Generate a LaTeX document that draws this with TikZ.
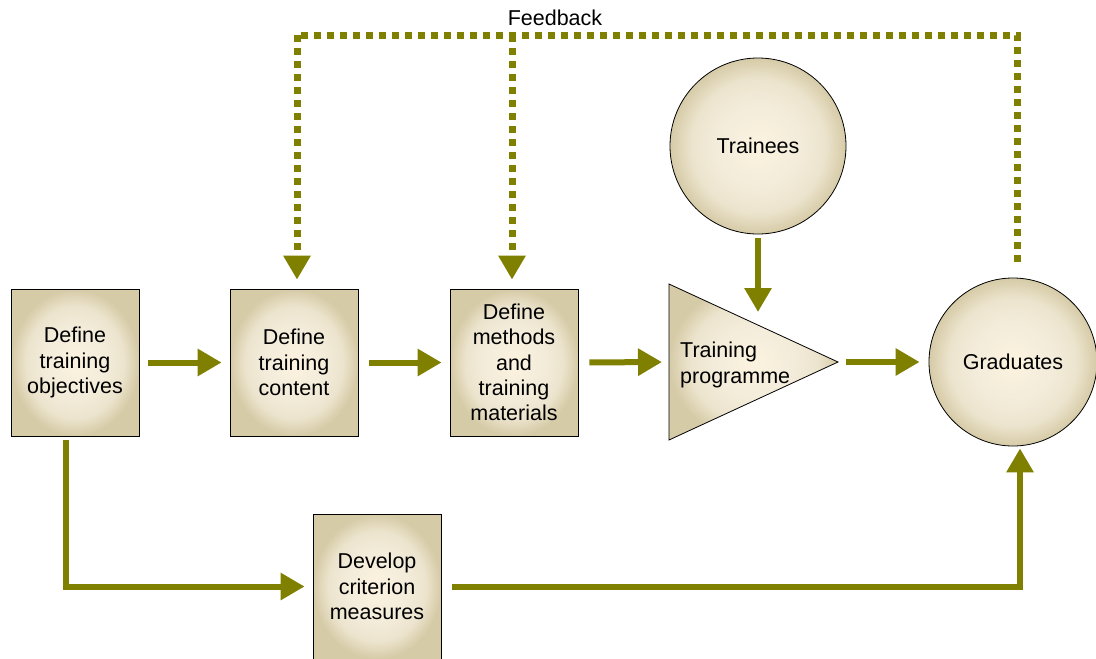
\documentclass[tikz,border=0pt]{standalone}
\usepackage{fontspec}
\setmainfont{Liberation Sans}
\usetikzlibrary{arrows.meta,calc}
\definecolor{olive}{RGB}{128,128,0}
\definecolor{cream}{RGB}{252,242,224}
\definecolor{cream2}{RGB}{243,236,218}
\definecolor{tan}{RGB}{214,203,167}
\pgfdeclareradialshading{glow}{\pgfpoint{0bp}{0bp}}{color(0bp)=(cream); color(12bp)=(cream2); color(19bp)=(cream2!75!tan); color(25bp)=(tan); color(50bp)=(tan)}
\tikzset{
  x=1pt, y=-1pt,
  txt/.style={font=\fontsize{21.5}{25.3}\selectfont},
  boxnode/.style={draw=black, line width=0.8pt, shading=glow,
    minimum width=128pt, minimum height=147pt, align=center, inner sep=0pt, txt},
  circnode/.style={draw=black, line width=0.8pt, circle, shading=glow,
    align=center, inner sep=0pt, txt},
  flow/.style={draw=olive, line width=6pt, -{Triangle[length=24pt,width=26pt]}},
  fb/.style={draw=olive, line width=7pt, dash pattern=on 7pt off 6pt},
  fbarrow/.style={fb, -{Triangle[length=24pt,width=26pt]}},
}
\begin{document}
\begin{tikzpicture}
\useasboundingbox (0,0) rectangle (1096,659);
% nodes
\node[boxnode] (obj) at (75,362.5) {Define\\training\\objectives};
\node[boxnode] (cont) at (294,362.5) {Define\\training\\content};
\node[boxnode] (meth) at (514,362.5) {Define\\methods\\and\\training\\materials};
\node[boxnode, minimum height=145pt] (crit) at (377,586.5) {Develop\\criterion\\measures};
\node[circnode, minimum size=176pt] (trainees) at (758,146) {Trainees};
\node[circnode, minimum size=168pt] (grad) at (1013,362) {Graduates};
% triangle
\shade[draw=black, line width=0.8pt, shading=glow]
  (669,284) -- (838,362) -- (669,440) -- cycle;
\node[anchor=west, align=left, inner sep=0pt, txt] (prog) at (680,365) {Training\\programme};
\coordinate (progW) at (669,362);
\coordinate (progE) at (838,362);
\coordinate (progN) at (758,325);
% flow arrows
\draw[flow, shorten <=9pt, shorten >=8pt] (obj.east) -- (cont.west);
\draw[flow, shorten <=11pt, shorten >=8pt] (cont.east) -- (meth.west);
\draw[flow, shorten <=11pt, shorten >=7pt] (meth.east) -- (progW);
\draw[flow, shorten <=8pt, shorten >=9pt] (progE) -- (grad.west);
\draw[flow, shorten <=4pt, shorten >=13pt] (trainees.south) -- (progN);
\draw[flow, shorten <=4pt, shorten >=8pt] (obj.south -| 66,0) |- (crit.west);
\draw[flow, shorten <=11pt, shorten >=2pt] (crit.east) -| (grad.south -| 1020,0);
% feedback
\coordinate (fbtop) at (1017,35);
\draw[fb] (grad.north -| 1017,0) ++(0,-16) -- (fbtop) -- (297,35);
\draw[fbarrow, shorten >=9pt] (297,35) -- (cont.north -| 297,0);
\draw[fbarrow, shorten >=9pt] (512,35) -- (meth.north -| 512,0);
\node[txt, inner sep=0pt] (fbl) at (555,18) {Feedback};
\end{tikzpicture}
\end{document}
